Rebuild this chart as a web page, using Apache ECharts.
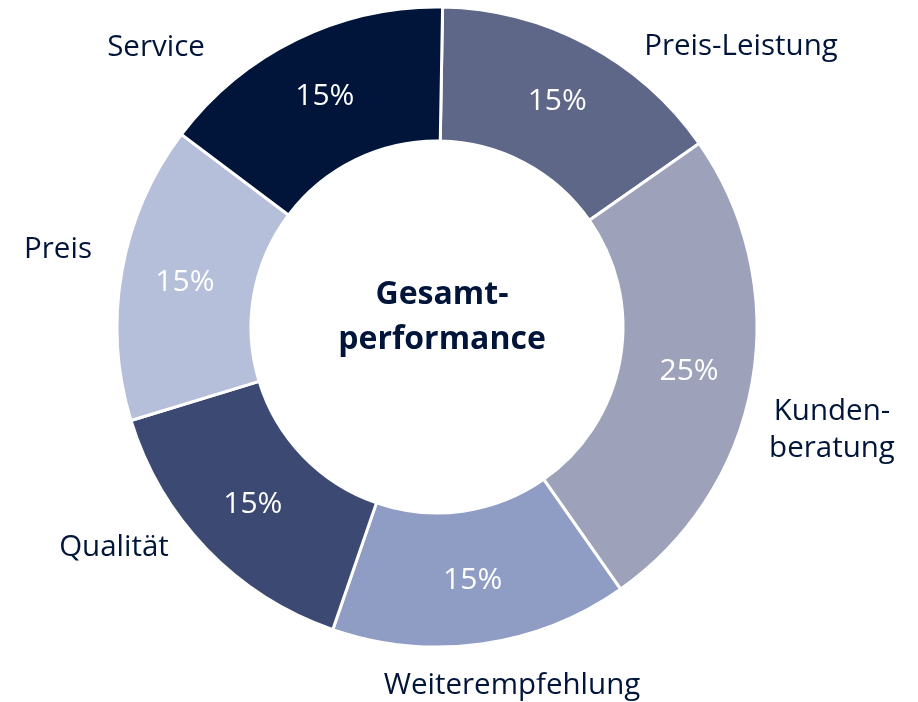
<!DOCTYPE html>
<html>
<head>
<meta charset="utf-8">
<script src="https://cdn.jsdelivr.net/npm/echarts@6/dist/echarts.min.js"></script>
<style>
  html, body { margin: 0; padding: 0; background: #fff; }
  #main { width: 918px; height: 702px; }
</style>
</head>
<body>
<div id="main"></div>
<script>
// Kategorien und Anteile (in %)
var categories = ['Preis-Leistung', 'Kunden-\nberatung', 'Weiterempfehlung', 'Qualität', 'Preis', 'Service'];
var shares = [15, 25, 15, 15, 15, 15];
var colors = ['#5f6789', '#9da1b9', '#8f9dc4', '#3c4a73', '#b5bfda', '#001539'];

// Positionen der Beschriftungen aussen (Pixel, Mittelpunkt des Texts)
var namePos = [[741, 47], [832, 430], [512, 686], [114, 548], [58, 250], [156, 48]];

var textColor = '#001539';
var center = [437, 327];
var radius = [186, 320];

var myChart = echarts.init(document.getElementById('main'));

var data = categories.map(function (name, i) {
    return { name: name, value: shares[i], itemStyle: { color: colors[i] } };
});

var option = {
    animation: false,
    title: {
        text: 'Gesamt-\nperformance',
        left: center[0],
        top: 267,
        textAlign: 'center',
        textStyle: {
            fontFamily: 'Open Sans',
            fontWeight: 'bold',
            fontSize: 32,
            lineHeight: 45,
            color: textColor
        }
    },
    series: [
        {
            // Ring mit Prozentwerten
            type: 'pie',
            center: center,
            radius: radius,
            startAngle: 89,
            clockwise: true,
            data: data,
            itemStyle: {
                borderColor: '#fff',
                borderWidth: 3
            },
            label: {
                show: true,
                position: 'inside',
                formatter: '{c}%',
                color: '#fff',
                fontFamily: 'Open Sans',
                fontSize: 30
            },
            labelLine: { show: false },
            emphasis: { disabled: true }
        },
        {
            // unsichtbare Kopie nur fuer die Namen aussen
            type: 'pie',
            center: center,
            radius: radius,
            startAngle: 89,
            clockwise: true,
            silent: true,
            data: categories.map(function (name, i) {
                return { name: name, value: shares[i] };
            }),
            itemStyle: { color: 'rgba(0,0,0,0)', borderWidth: 0 },
            label: {
                show: true,
                position: 'outside',
                formatter: '{b}',
                color: textColor,
                fontFamily: 'Open Sans',
                fontSize: 29.5,
                lineHeight: 37,
                align: 'center',
                overflow: 'none'
            },
            labelLine: { show: false },
            labelLayout: function (params) {
                var p = namePos[params.dataIndex];
                return { x: p[0], y: p[1], align: 'center', verticalAlign: 'middle' };
            },
            emphasis: { disabled: true }
        }
    ]
};

myChart.setOption(option);
</script>
</body>
</html>
